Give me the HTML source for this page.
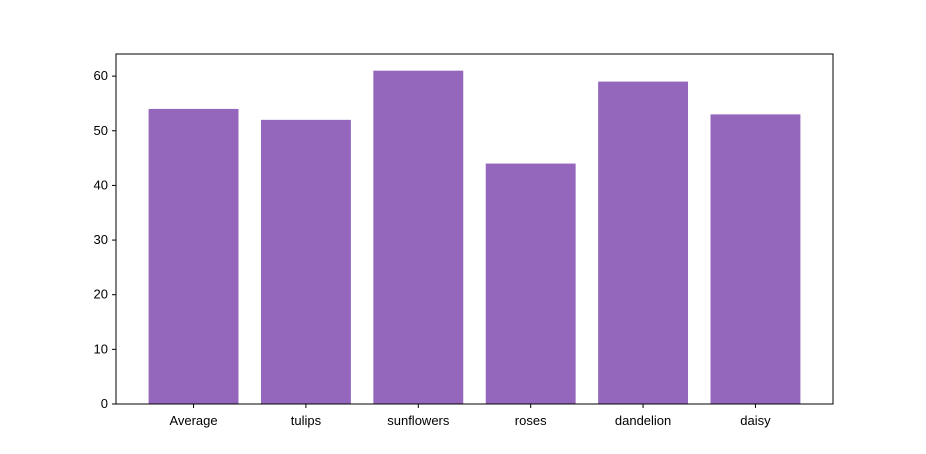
<!DOCTYPE html>
<html><head><meta charset="utf-8"><style>
html,body{margin:0;padding:0;background:#fff;}
svg{display:block;font-family:"Liberation Sans","DejaVu Sans",sans-serif;}
</style></head><body>
<svg id="chart" width="926" height="454"></svg>
<script>
const categories = ["Average","tulips","sunflowers","roses","dandelion","daisy"];
const values = [54,52,61,44,59,53];
const yTicks = [0,10,20,30,40,50,60];

const NS="http://www.w3.org/2000/svg";
const svg=document.getElementById("chart");
const L=116,R=833,T=54,B=404;
const yMax=Math.max(...values)*1.05;
const xMin=-0.4-0.058*categories.length/1.2*1.2, xMaxV=categories.length-1+0.4+(0.29);
const xm=-0.69, xM=categories.length-1+0.69;
function xs(v){return L+(v-xm)/(xM-xm)*(R-L);}
function ys(v){return B-v/yMax*(B-T);}
function mk(tag,attrs){const e=document.createElementNS(NS,tag);for(const k in attrs)e.setAttribute(k,attrs[k]);svg.appendChild(e);return e;}

values.forEach((v,i)=>{
  const r=mk("rect",{x:xs(i-0.4),y:ys(v),width:xs(i+0.4)-xs(i-0.4),height:B-ys(v),fill:"#9467bd"});
  
  
});
const frame=mk("rect",{x:L,y:T,width:R-L,height:B-T,fill:"none",stroke:"#000","stroke-width":1});



yTicks.forEach(t=>{
  const y=ys(t);
  const tk=mk("line",{x1:L-4,x2:L,y1:y,y2:y,stroke:"#000","stroke-width":1});
  
  
  const tx=mk("text",{x:L-8,y:y+4,"text-anchor":"end","font-size":13,fill:"#000"});
  tx.textContent=t;
  
  
});
categories.forEach((c,i)=>{
  const x=xs(i);
  const tk=mk("line",{x1:x,x2:x,y1:B,y2:B+4,stroke:"#000","stroke-width":1});
  
  
  const tx=mk("text",{x:x,y:B+21,"text-anchor":"middle","font-size":13,fill:"#000"});
  tx.textContent=c;
  
  
});
</script>
</body></html>
